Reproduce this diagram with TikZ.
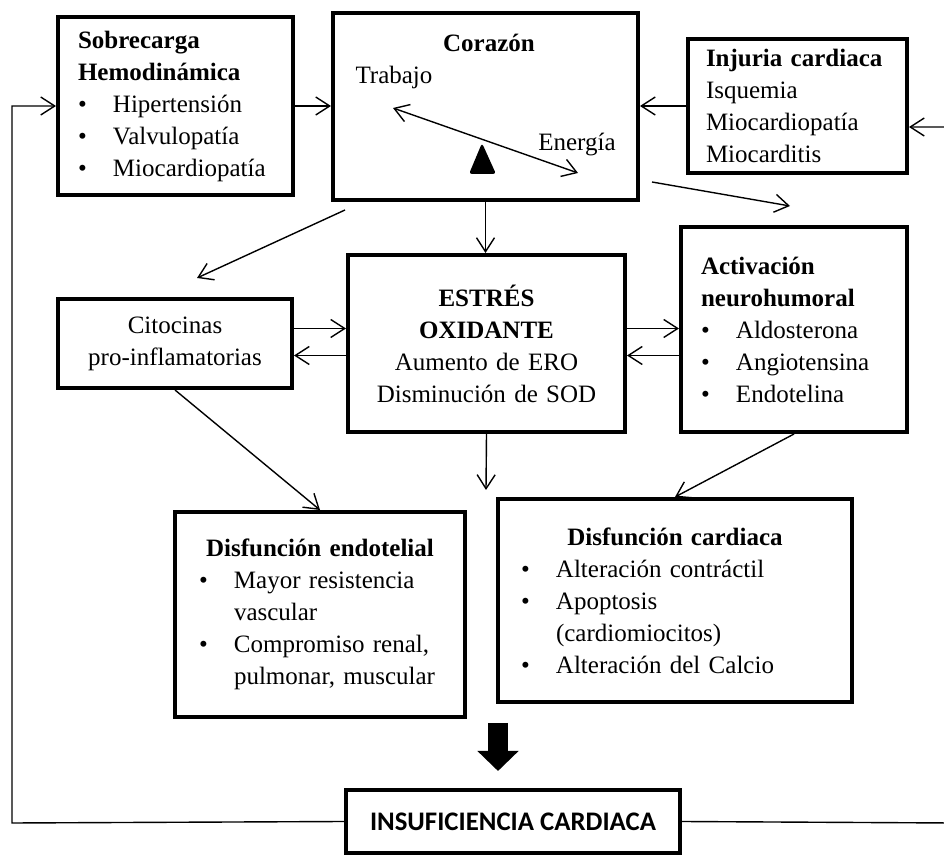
\documentclass[tikz,border=0pt]{standalone}
\usepackage{fontspec}
\setmainfont{Liberation Serif}
\newfontfamily\capsfont{Carlito}
\usetikzlibrary{arrows.meta}
\newcommand{\itm}{\makebox[17.5pt][l]{\textbullet}}
\newcommand{\ind}{\hspace*{17.5pt}}
\newcommand{\ttl}[1]{\hfill\textbf{#1}\hfill\null}

\begin{document}
\begin{tikzpicture}[
    x=0.5pt,y=-0.5pt,
    font=\fontsize{12.5}{16}\selectfont,
    box/.style={draw,line width=2pt,inner xsep=10pt,inner ysep=0pt,align=left},
    cbox/.style={box,align=center},
    arr/.style={-{Straight Barb[length=7pt,width=9pt]},line width=0.7pt},
    bigarr/.style={-{Triangle[length=10pt,width=20pt]},line width=10pt}
]
\useasboundingbox (0,0) rectangle (944,855);

% top row
\node[box,minimum width=117.5pt,minimum height=89pt,text width=97.5pt] (sob) at (175.5,106)
  {\textbf{Sobrecarga}\\ \textbf{Hemodinámica}\\ \itm Hipertensión\\ \itm Valvulopatía\\ \itm Miocardiopatía};
\node[box,minimum width=152.5pt,minimum height=93.5pt] (cor) at (485.5,106.5) {};
\node[box,inner xsep=9pt,minimum width=109.5pt,minimum height=67pt,text width=91.5pt] (inj) at (797.5,106)
  {\textbf{Injuria cardiaca}\\ Isquemia\\ Miocardiopatía\\ Miocarditis};

% inside the heart box
\node (cortit) at (489,43) {\textbf{Corazón}};
\node (trab) at (394,77) {Trabajo};
\node (ener) at (577,145) {Energía};
\coordinate (bl) at (393,108);
\coordinate (br) at (578,173);
\draw[{Straight Barb[length=7pt,width=9pt]}-{Straight Barb[length=7pt,width=9pt]},line width=0.7pt] (bl) -- (br);
\fill[rounded corners=1.5pt] (482,143) -- (496,174) -- (469,174) -- cycle;

% middle row
\node[cbox,minimum width=117pt,minimum height=44.5pt,text width=97pt] (cit) at (175,343.5)
  {Citocinas\\ pro-inflamatorias};
\node[cbox,minimum width=138.5pt,minimum height=88.5pt,text width=118.5pt] (est) at (486.5,343.5)
  {\textbf{ESTRÉS}\\ \textbf{OXIDANTE}\\ Aumento de ERO\\ Disminución de SOD};
\node[box,minimum width=113pt,minimum height=102.5pt,text width=93pt] (act) at (794,329.5)
  {\textbf{Activación}\\ \textbf{neurohumoral}\\ \itm Aldosterona\\ \itm Angiotensina\\ \itm Endotelina};

% bottom row
\node[box,inner xsep=12pt,minimum width=145pt,minimum height=102.5pt,text width=121pt] (endo) at (320,614.5)
  {\ttl{Disfunción endotelial}\\ \itm Mayor resistencia\\ \ind vascular\\ \itm Compromiso renal,\\ \ind pulmonar, muscular};
\node[box,inner xsep=11.5pt,minimum width=177pt,minimum height=101.5pt,text width=154pt] (card) at (675,600.5)
  {\ttl{Disfunción cardiaca}\\ \itm Alteración contráctil\\ \itm Apoptosis\\ \ind (cardiomiocitos)\\ \itm Alteración del Calcio};
\node[cbox,minimum width=167pt,minimum height=31.5pt] (ins) at (513,821.5)
  {\capsfont\bfseries\fontsize{13.4}{16}\selectfont INSUFICIENCIA CARDIACA};

% connectors
\draw[arr] (sob.east) -- (sob.east -| cor.west);
\draw[arr] (inj.west) -- (inj.west -| cor.east);
\draw[arr] (cor.south) -- (cor.south |- est.north);
\draw[arr] ([xshift=7pt,yshift=-4pt]cor.south west) -- ([xshift=11pt,yshift=9.5pt]cit.north);
\draw[arr] ([xshift=6pt,yshift=10pt]cor.south east) -- ([xshift=-2pt,yshift=9.5pt]act.north);
\draw[arr] ([yshift=7.5pt]cit.east) -- ([yshift=7.5pt]cit.east -| est.west);
\draw[arr] ([yshift=-6pt]est.west) -- ([yshift=-6pt]est.west -| cit.east);
\draw[arr] ([yshift=7.5pt]est.east) -- ([yshift=7.5pt]est.east -| act.west);
\draw[arr] ([yshift=-6pt]est.east -| act.west) -- ([yshift=-6pt]est.east);
\coordinate (estdn) at (486,490);
\draw[arr] (est.south) -- (estdn);
\draw[arr] (cit.south) -- (endo.north);
\draw[arr] (act.south) -- (card.north);
\coordinate (bigs) at (498,723);
\draw[bigarr] (bigs) -- ([xshift=-7.5pt,yshift=8.5pt]ins.north);

% feedback loop
\coordinate (lft) at (12,823);
\coordinate (rgt) at (952,823);
\draw[arr] (ins.west) -- (lft) |- (sob.west);
\draw[arr] (ins.east) -- (rgt) |- ([yshift=-10.5pt]inj.east);
\end{tikzpicture}
\end{document}
